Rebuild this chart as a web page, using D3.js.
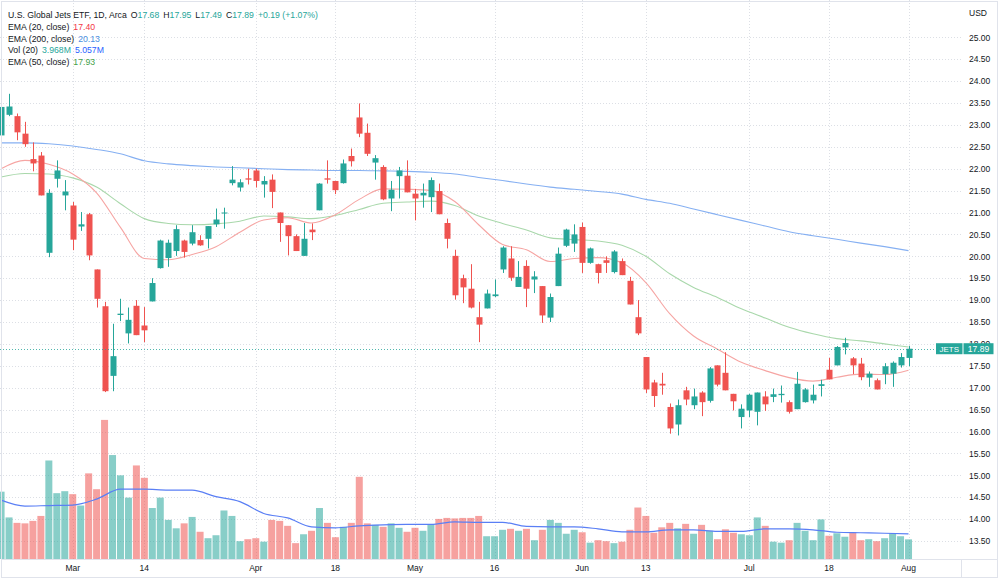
<!DOCTYPE html>
<html>
<head>
<meta charset="utf-8">
<script src="https://cdn.jsdelivr.net/npm/d3@7"></script>
<style>
  body { margin: 0; background: #fff; }
  svg { display: block; font-family: "Liberation Sans", Arial, sans-serif; }
</style>
</head>
<body>
<div id="chart"></div>
<script>
// trading days shown on the chart
var dates = [
  "2022-02-15","2022-02-16","2022-02-17","2022-02-18","2022-02-22","2022-02-23","2022-02-24","2022-02-25","2022-02-28",
  "2022-03-01","2022-03-02","2022-03-03","2022-03-04","2022-03-07","2022-03-08","2022-03-09","2022-03-10","2022-03-11",
  "2022-03-14","2022-03-15","2022-03-16","2022-03-17","2022-03-18","2022-03-21","2022-03-22","2022-03-23","2022-03-24",
  "2022-03-25","2022-03-28","2022-03-29","2022-03-30","2022-03-31",
  "2022-04-01","2022-04-04","2022-04-05","2022-04-06","2022-04-07","2022-04-08","2022-04-11","2022-04-12","2022-04-13",
  "2022-04-14","2022-04-18","2022-04-19","2022-04-20","2022-04-21","2022-04-22","2022-04-25","2022-04-26","2022-04-27",
  "2022-04-28","2022-04-29",
  "2022-05-02","2022-05-03","2022-05-04","2022-05-05","2022-05-06","2022-05-09","2022-05-10","2022-05-11","2022-05-12",
  "2022-05-13","2022-05-16","2022-05-17","2022-05-18","2022-05-19","2022-05-20","2022-05-23","2022-05-24","2022-05-25",
  "2022-05-26","2022-05-27","2022-05-31",
  "2022-06-01","2022-06-02","2022-06-03","2022-06-06","2022-06-07","2022-06-08","2022-06-09","2022-06-10","2022-06-13",
  "2022-06-14","2022-06-15","2022-06-16","2022-06-17","2022-06-21","2022-06-22","2022-06-23","2022-06-24","2022-06-27",
  "2022-06-28","2022-06-29","2022-06-30",
  "2022-07-01","2022-07-05","2022-07-06","2022-07-07","2022-07-08","2022-07-11","2022-07-12","2022-07-13","2022-07-14",
  "2022-07-15","2022-07-18","2022-07-19","2022-07-20","2022-07-21","2022-07-22","2022-07-25","2022-07-26","2022-07-27",
  "2022-07-28","2022-07-29",
  "2022-08-01"
];

var open = [
  22.76,23.23,23.20,22.80,22.22,22.30,20.08,21.77,21.39,
  21.16,20.68,20.96,19.70,18.86,17.27,18.66,18.24,18.87,18.42,
  18.97,19.73,19.96,20.12,20.36,20.29,20.37,20.40,20.73,20.99,
  21.67,21.57,21.78,21.96,21.64,21.75,21.00,20.71,20.46,20.01,
  20.61,21.05,21.78,21.72,21.67,22.29,23.17,22.82,22.14,22.04,
  21.32,21.83,21.84,21.43,21.39,21.35,21.49,20.76,20.01,19.50,
  19.26,18.61,18.81,19.09,19.70,19.95,19.30,19.78,19.47,19.32,
  18.60,19.32,20.24,20.29,20.67,19.85,19.82,19.91,19.64,19.89,
  19.44,18.61,17.70,17.12,17.09,16.56,16.16,16.94,16.60,16.89,
  16.70,17.51,17.34,16.86,16.33,16.48,16.45,16.80,16.79,16.83,
  16.67,16.51,16.67,16.71,17.04,17.41,17.51,17.92,17.67,17.55,
  17.23,17.17,17.31,17.32,17.51,17.68
];
var high = [
  23.45,23.71,23.26,23.07,22.60,22.38,21.53,22.19,21.74,
  21.24,21.01,20.99,19.70,18.96,18.46,19.03,18.83,19.00,18.84,
  19.50,20.38,20.38,20.71,20.38,20.71,20.48,20.69,21.09,21.11,
  22.06,21.76,22.00,22.00,21.83,21.87,21.00,20.71,20.50,20.76,
  20.75,21.67,22.19,21.72,22.21,22.46,23.49,23.03,22.31,22.08,
  21.72,22.04,22.19,21.54,21.66,21.80,21.66,20.86,20.15,19.58,
  19.82,18.96,19.24,19.47,20.23,20.23,19.89,19.91,19.66,19.32,
  19.15,20.20,20.63,20.73,20.77,20.20,19.83,20.00,20.14,19.95,
  19.53,19.00,17.70,17.18,17.34,16.64,16.73,17.02,16.98,16.92,
  17.47,17.51,17.81,16.86,16.62,16.86,16.89,16.92,16.98,17.05,
  16.71,17.36,16.99,17.07,17.18,17.68,17.95,18.14,17.70,17.68,
  17.37,17.21,17.56,17.60,17.79,17.95
];
var low = [
  22.70,23.20,22.65,22.50,21.94,21.39,19.98,21.57,21.05,
  20.14,20.58,19.91,18.83,16.90,16.92,18.52,18.01,18.20,18.04,
  18.97,19.72,19.76,20.01,19.97,20.25,20.24,20.18,20.67,20.63,
  21.62,21.48,21.64,21.57,21.34,21.10,20.33,20.02,20.12,20.01,
  20.37,21.05,21.66,21.42,21.66,22.05,22.72,22.29,21.75,21.28,
  21.03,21.32,21.46,20.82,21.11,21.01,20.96,20.18,19.01,18.93,
  18.81,18.04,18.81,19.07,19.62,19.44,19.30,18.84,19.16,18.48,
  18.50,19.32,20.21,20.10,19.62,19.83,19.38,19.62,19.61,19.57,
  18.90,18.20,16.88,16.56,16.84,15.95,15.91,16.60,16.51,16.35,
  16.66,17.03,16.94,16.48,16.07,16.33,16.14,16.47,16.67,16.66,
  16.41,16.51,16.66,16.64,16.80,17.19,17.51,17.76,17.31,17.17,
  17.02,16.96,17.08,17.02,17.46,17.49
];
var close = [
  23.41,23.42,22.83,22.56,22.12,21.39,21.45,21.96,21.48,
  20.38,20.73,20.02,19.03,16.92,17.72,18.69,18.55,18.20,18.31,
  19.39,20.36,20.31,20.62,20.10,20.55,20.25,20.69,20.84,21.00,
  21.75,21.69,21.75,21.72,21.72,21.47,20.76,20.46,20.12,20.40,
  20.55,21.66,21.75,21.51,22.12,22.17,22.80,22.34,22.24,21.30,
  21.52,21.96,21.46,21.32,21.45,21.74,20.96,20.40,19.11,19.29,
  18.83,18.44,19.15,19.13,20.20,19.51,19.53,19.26,19.54,18.65,
  19.07,20.06,20.61,20.50,19.85,20.18,19.62,19.85,20.11,19.57,
  18.90,18.24,16.96,16.81,17.05,16.07,16.60,16.73,16.80,16.67,
  17.44,17.07,16.94,16.69,16.52,16.84,16.89,16.62,16.85,16.86,
  16.45,17.09,16.96,16.84,17.08,17.19,17.93,18.02,17.51,17.24,
  17.32,16.96,17.49,17.57,17.70,17.89
];
// volume in millions of shares
var volume = [
  13.6,8.4,7.3,7.2,7.7,8.7,19.9,13.3,13.7,
  13.1,10.8,17.3,14.1,28.1,21.0,16.9,12.4,18.9,16.4,
  10.3,12.4,7.9,6.2,7.2,8.5,5.5,4.2,4.8,9.8,
  8.7,3.6,4.0,4.2,3.5,7.9,7.7,6.7,3.2,5.0,
  5.7,10.3,7.3,4.4,6.5,7.3,16.6,7.2,6.9,6.5,
  7.2,6.3,5.5,6.3,5.7,7.0,8.1,8.3,8.2,8.3,
  8.3,8.7,4.6,4.6,5.9,6.1,5.7,6.1,3.8,5.9,
  7.9,7.3,5.1,5.9,5.4,3.3,3.8,3.6,3.2,3.5,
  5.9,10.4,8.7,5.3,6.4,7.3,6.2,7.1,5.1,6.9,
  5.7,4.0,6.0,5.3,5.0,4.8,8.4,6.7,3.5,3.3,
  3.8,7.3,5.7,3.8,8.0,4.7,5.2,4.5,5.4,3.8,
  4.0,3.6,4.2,5.2,4.6,3.968
];

// indicator lines, read every third trading day
var ema20 = [22.00,22.19,22.10,21.88,21.45,20.66,19.95,19.92,20.04,20.22,20.55,20.83,20.88,20.76,20.95,21.30,21.54,21.53,21.50,21.25,
  20.72,20.27,20.15,19.88,19.95,19.97,19.85,19.40,18.69,18.18,17.88,17.58,17.39,17.23,17.15,17.24,17.31,17.30,17.40];
var ema50 = [21.81,21.89,21.88,21.79,21.58,21.20,20.86,20.75,20.72,20.74,20.80,20.92,20.90,20.86,20.93,21.07,21.21,21.24,21.26,21.16,
  20.92,20.75,20.60,20.42,20.38,20.35,20.25,20.00,19.60,19.29,19.06,18.80,18.59,18.38,18.23,18.12,18.07,18.00,17.93];
var ema200 = [22.59,22.59,22.57,22.52,22.44,22.34,22.18,22.11,22.07,22.04,22.02,22.00,21.98,21.97,21.96,21.96,21.95,21.94,21.92,21.88,
  21.80,21.73,21.65,21.58,21.53,21.48,21.42,21.30,21.21,21.08,20.95,20.82,20.69,20.56,20.47,20.39,20.30,20.22,20.13];
var volMa = [11.9,10.7,10.8,10.9,12.1,14.1,14.1,13.9,13.9,12.6,11.6,9.2,8.3,6.5,6.3,6.7,6.9,7.0,7.0,7.5,
  7.4,7.4,6.6,6.5,6.5,6.1,5.5,5.5,5.9,5.9,5.6,5.6,6.1,6.1,5.9,5.4,5.3,5.2,5.057];

var priceTicks = [13.5,14,14.5,15,15.5,16,16.5,17,17.5,18,18.5,19,19.5,20,20.5,21,21.5,22,22.5,23,23.5,24,24.5,25];
var tickDates = ["2022-03-01","2022-03-14","2022-04-01","2022-04-18","2022-05-02","2022-05-16",
  "2022-06-01","2022-06-13","2022-07-01","2022-07-18","2022-08-01"];
var tickLabels = ["Mar","14","Apr","18","May","16","Jun","13","Jul","18","Aug"];

var up = "#26a69a", down = "#ef5350", dark = "#131722", gridCol = "#dcdfe5";

var width = 1000, height = 582, plotW = 961, plotH = 559;

var svg = d3.select("#chart")
  .append("svg")
    .attr("width", width)
    .attr("height", height);

var rows = dates.map(function(d, i) {
  return {date: d, o: open[i], h: high[i], l: low[i], c: close[i], v: volume[i]};
});
var lineDates = dates.filter(function(d, i) { return i % 3 == 0; });

var x = d3.scaleBand().domain(dates).range([-2.92, 912.48]);
var cx = function(d) { return x(d) + x.bandwidth() / 2; };
var y = d3.scaleLinear().domain([13.5, 25]).range([541, 37.3]);
var yv = d3.scaleLinear().domain([0, 30]).range([559, 410.5]);

// grid
var grid = svg.append("g")
  .attr("stroke", gridCol)
  .attr("stroke-dasharray", "1,2");
grid.selectAll(".h").data(priceTicks).enter().append("line")
  .attr("x1", 0).attr("x2", plotW)
  .attr("y1", function(d) { return Math.round(y(d)) + 0.5; })
  .attr("y2", function(d) { return Math.round(y(d)) + 0.5; });
grid.selectAll(".v").data(tickDates).enter().append("line")
  .attr("y1", 0).attr("y2", plotH)
  .attr("x1", function(d) { return Math.round(cx(d)) + 0.5; })
  .attr("x2", function(d) { return Math.round(cx(d)) + 0.5; });

// volume
svg.append("g").selectAll("rect").data(rows).enter().append("rect")
  .attr("x", function(d) { return x(d.date) + 0.5; })
  .attr("width", 7)
  .attr("y", function(d) { return yv(d.v); })
  .attr("height", function(d) { return yv(0) - yv(d.v); })
  .attr("fill", function(d) { return d.c >= d.o ? up : down; })
  .attr("fill-opacity", 0.55);

var line = function(yScale) {
  return d3.line()
    .x(function(d) { return cx(d[0]); })
    .y(function(d) { return yScale(d[1]); })
    .curve(d3.curveMonotoneX);
};
var pairs = function(arr) { return lineDates.map(function(d, i) { return [d, arr[i]]; }); };

svg.append("path").datum(pairs(volMa))
  .attr("fill", "none").attr("stroke", "#5a7ff5").attr("stroke-width", 1.2)
  .attr("d", line(yv));

// moving averages
[[ema200, "#86b0f2"], [ema50, "#a9d8ab"], [ema20, "#f6a5a3"]].forEach(function(s) {
  svg.append("path").datum(pairs(s[0]))
    .attr("fill", "none").attr("stroke", s[1]).attr("stroke-width", 1.1)
    .attr("d", line(y));
});

// candles
var candles = svg.append("g");
candles.selectAll("line").data(rows).enter().append("line")
  .attr("x1", function(d) { return Math.round(cx(d.date)) + 0.5; })
  .attr("x2", function(d) { return Math.round(cx(d.date)) + 0.5; })
  .attr("y1", function(d) { return y(d.h); })
  .attr("y2", function(d) { return y(d.l); })
  .attr("stroke", function(d) { return d.c >= d.o ? up : down; });
candles.selectAll("rect").data(rows).enter().append("rect")
  .attr("x", function(d) { return Math.round(cx(d.date)) - 2.5; })
  .attr("width", 6)
  .attr("y", function(d) { return y(Math.max(d.o, d.c)); })
  .attr("height", function(d) { return Math.max(1, Math.abs(y(d.o) - y(d.c))); })
  .attr("fill", function(d) { return d.c >= d.o ? up : down; });

// last price line
var last = rows[rows.length - 1], prev = rows[rows.length - 2];
svg.append("line")
  .attr("x1", 0).attr("x2", plotW)
  .attr("y1", Math.round(y(last.c)) + 0.5).attr("y2", Math.round(y(last.c)) + 0.5)
  .attr("stroke", up).attr("stroke-opacity", 0.8).attr("stroke-dasharray", "1,2");

// frame
svg.append("rect").attr("x", 1.5).attr("y", 1.5).attr("width", 996).attr("height", 576)
  .attr("fill", "none").attr("stroke", "#e0e3eb");
svg.append("line").attr("x1", 1.5).attr("x2", 997.5).attr("y1", plotH + 0.5).attr("y2", plotH + 0.5)
  .attr("stroke", "#e0e3eb");
svg.append("line").attr("x1", plotW + 0.5).attr("x2", plotW + 0.5).attr("y1", plotH).attr("y2", 577.5)
  .attr("stroke", "#e0e3eb");

// price axis
var yAxis = svg.append("g")
  .attr("transform", "translate(969,0)")
  .call(d3.axisRight(y).tickValues(priceTicks).tickFormat(d3.format(".2f")).tickSize(0).tickPadding(0));
yAxis.select(".domain").remove();
yAxis.selectAll("text")
  .attr("font-family", "Liberation Sans, Arial, sans-serif")
  .attr("font-size", "8.5px")
  .attr("fill", dark);
svg.append("text").attr("x", 969).attr("y", 16).attr("font-size", "8.5px").attr("fill", dark).text("USD");

// time axis
var xAxis = svg.append("g")
  .attr("transform", "translate(0," + plotH + ")")
  .call(d3.axisBottom(x).tickValues(tickDates)
    .tickFormat(function(d, i) { return tickLabels[i]; })
    .tickSize(0).tickPadding(6));
xAxis.select(".domain").remove();
xAxis.selectAll("text")
  .attr("font-family", "Liberation Sans, Arial, sans-serif")
  .attr("font-size", "8.5px")
  .attr("fill", dark);

// last price labels
var ly = y(last.c);
svg.append("rect").attr("x", 936).attr("y", ly - 5.5).attr("width", 26.5).attr("height", 11).attr("fill", up);
svg.append("rect").attr("x", 963.5).attr("y", ly - 5.5).attr("width", 30).attr("height", 11).attr("fill", up);
svg.append("text").attr("x", 949.3).attr("y", ly + 3).attr("text-anchor", "middle")
  .attr("font-size", "8px").attr("fill", "#fff").text("JETS");
svg.append("text").attr("x", 978.5).attr("y", ly + 3).attr("text-anchor", "middle")
  .attr("font-size", "8.5px").attr("fill", "#fff").text(d3.format(".2f")(last.c));

// legend
var f2 = d3.format(".2f");
var chg = last.c - prev.c;
var legend = [
  [["U.S. Global Jets ETF, 1D, Arca", dark], ["O", dark, 4], [f2(last.o), up], ["H", dark, 4], [f2(last.h), up],
   ["L", dark, 4], [f2(last.l), up], ["C", dark, 4], [f2(last.c), up],
   [d3.format("+.2f")(chg) + " (" + d3.format("+.2%")(chg / prev.c) + ")", up, 4]],
  [["EMA (20, close)", dark], [f2(ema20[ema20.length - 1]), "#f23645", 4]],
  [["EMA (200, close)", dark], [f2(ema200[ema200.length - 1]), "#4a90e2", 4]],
  [["Vol (20)", dark], [d3.format(".3f")(volume[volume.length - 1]) + "M", up, 4],
   [d3.format(".3f")(volMa[volMa.length - 1]) + "M", "#2962ff", 4]],
  [["EMA (50, close)", dark], [f2(ema50[ema50.length - 1]), "#43a047", 4]]
];
var lg = svg.append("g").attr("font-size", "8.7px");
legend.forEach(function(parts, r) {
  var t = lg.append("text").attr("x", 8).attr("y", 18 + r * 11.8);
  parts.forEach(function(p) {
    t.append("tspan").attr("fill", p[1]).attr("dx", p[2] || 0).text(p[0]);
  });
});
</script>
</body>
</html>
